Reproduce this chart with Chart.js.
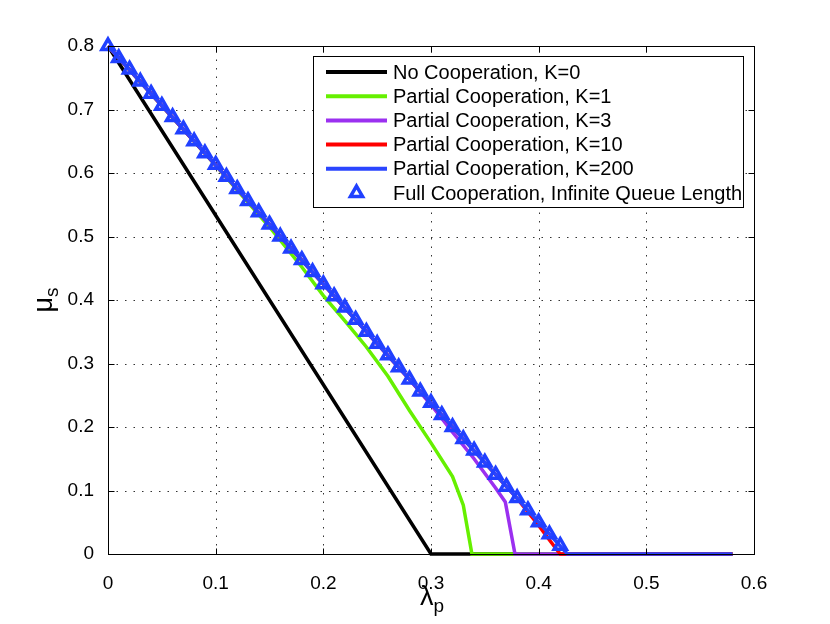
<!DOCTYPE html>
<html>
<head>
<meta charset="utf-8">
<script src="https://cdn.jsdelivr.net/npm/chart.js@4/dist/chart.umd.min.js"></script>
<style>
  html, body { margin: 0; padding: 0; background: #fff; }
  #wrap { width: 830px; height: 624px; }
</style>
</head>
<body>
<div id="wrap"><canvas id="chart" width="830" height="624"></canvas></div>
<script>
// -----------------------
// Data
// -----------------------
const xTicks = [0, 0.1, 0.2, 0.3, 0.4, 0.5, 0.6];
const yTicks = [0, 0.1, 0.2, 0.3, 0.4, 0.5, 0.6, 0.7, 0.8];

const labels = [
  'No Cooperation, K=0',
  'Partial Cooperation, K=1',
  'Partial Cooperation, K=3',
  'Partial Cooperation, K=10',
  'Partial Cooperation, K=200',
  'Full Cooperation, Infinite Queue Length'
];

const lambdaK0 = [0, 0.30, 0.58];
const muK0     = [0.8, 0, 0];

const lambdaK1 = [0, 0.10, 0.15, 0.18, 0.20, 0.22, 0.24, 0.26, 0.28, 0.30, 0.32, 0.33, 0.338, 0.58];
const muK1     = [0.8, 0.612, 0.515, 0.452, 0.407, 0.367, 0.326, 0.28, 0.226, 0.175, 0.122, 0.077, 0, 0];

const lambdaK3 = [0, 0.28, 0.30, 0.32, 0.34, 0.36, 0.369, 0.378, 0.58];
const muK3     = [0.8, 0.275, 0.235, 0.192, 0.15, 0.104, 0.082, 0, 0];

const lambdaK10 = [0, 0.38, 0.40, 0.41, 0.42, 0.58];
const muK10     = [0.8, 0.0875, 0.045, 0.022, 0, 0];

const lambdaK200 = [0, 0.4267, 0.58];
const muK200     = [0.8, 0, 0];

const lambdaFull = [0, 0.01, 0.02, 0.03, 0.04, 0.05, 0.06, 0.07, 0.08, 0.09,
  0.10, 0.11, 0.12, 0.13, 0.14, 0.15, 0.16, 0.17, 0.18, 0.19,
  0.20, 0.21, 0.22, 0.23, 0.24, 0.25, 0.26, 0.27, 0.28, 0.29,
  0.30, 0.31, 0.32, 0.33, 0.34, 0.35, 0.36, 0.37, 0.38, 0.39,
  0.40, 0.41, 0.42];
const muFull = [0.800, 0.781, 0.763, 0.744, 0.725, 0.706, 0.688, 0.669, 0.650, 0.631,
  0.613, 0.594, 0.575, 0.556, 0.538, 0.519, 0.500, 0.481, 0.463, 0.444,
  0.425, 0.406, 0.388, 0.369, 0.350, 0.331, 0.313, 0.294, 0.275, 0.256,
  0.238, 0.219, 0.200, 0.181, 0.163, 0.144, 0.125, 0.106, 0.088, 0.069,
  0.050, 0.031, 0.013];

const colors = ['#000000', '#66f000', '#9b30f0', '#ff0000', '#2a45ff', '#2040ff'];

const FONT = '"Liberation Sans", Arial, Helvetica, sans-serif';
const TRI_R = 7;
const TRI_W = 3.5;

function pts(xs, ys) {
  return xs.map((x, i) => ({ x: x, y: ys[i] }));
}

function lineSet(i, xs, ys, order) {
  return {
    label: labels[i],
    data: pts(xs, ys),
    showLine: true,
    borderColor: colors[i],
    backgroundColor: colors[i],
    borderWidth: 3.5,
    pointRadius: 0,
    pointHoverRadius: 0,
    fill: false,
    tension: 0,
    clip: false,
    order: order
  };
}

const datasets = [
  lineSet(0, lambdaK0, muK0, 5),
  lineSet(1, lambdaK1, muK1, 4),
  lineSet(2, lambdaK3, muK3, 3),
  lineSet(3, lambdaK10, muK10, 2),
  lineSet(4, lambdaK200, muK200, 1),
  {
    label: labels[5],
    data: pts(lambdaFull, muFull),
    showLine: false,
    pointStyle: 'triangle',
    pointRadius: TRI_R,
    pointBorderWidth: TRI_W,
    pointBorderColor: colors[5],
    pointBackgroundColor: 'rgba(255,255,255,0)',
    clip: false,
    order: 0
  }
];

// -----------------------
// Matlab-style frame: dotted grid, inward ticks, box, legend, labels
// -----------------------
const matlabFrame = {
  id: 'matlabFrame',
  beforeDatasetsDraw(chart) {
    const { ctx, chartArea: a, scales: { x, y } } = chart;
    ctx.save();
    ctx.strokeStyle = '#333';
    ctx.lineWidth = 1;
    ctx.setLineDash([1.5, 7]);
    xTicks.forEach(v => {
      const px = Math.round(x.getPixelForValue(v)) + 0.5;
      if (v === xTicks[0] || v === xTicks[xTicks.length - 1]) return;
      ctx.beginPath(); ctx.moveTo(px, a.bottom); ctx.lineTo(px, a.top); ctx.stroke();
    });
    yTicks.forEach(v => {
      const py = Math.round(y.getPixelForValue(v)) + 0.5;
      if (v === yTicks[0] || v === yTicks[yTicks.length - 1]) return;
      ctx.beginPath(); ctx.moveTo(a.left, py); ctx.lineTo(a.right, py); ctx.stroke();
    });
    ctx.restore();
  },
  afterDatasetsDraw(chart) {
    const { ctx, chartArea: a, scales: { x, y } } = chart;
    ctx.save();
    ctx.setLineDash([]);
    ctx.strokeStyle = '#000';
    ctx.lineWidth = 1;
    const L = Math.round(a.left) + 0.5, R = Math.round(a.right) + 0.5;
    const T = Math.round(a.top) + 0.5, B = Math.round(a.bottom) + 0.5;
    ctx.strokeRect(L, T, R - L, B - T);

    const tl = 6;
    ctx.beginPath();
    xTicks.forEach(v => {
      const px = Math.round(x.getPixelForValue(v)) + 0.5;
      ctx.moveTo(px, B); ctx.lineTo(px, B - tl);
      ctx.moveTo(px, T); ctx.lineTo(px, T + tl);
    });
    yTicks.forEach(v => {
      const py = Math.round(y.getPixelForValue(v)) + 0.5;
      ctx.moveTo(L, py); ctx.lineTo(L + tl, py);
      ctx.moveTo(R, py); ctx.lineTo(R - tl, py);
    });
    ctx.stroke();

    // legend
    const lx = 313.5, ly = 56.5, lw = 430, lh = 151;
    ctx.fillStyle = '#fff';
    ctx.fillRect(lx, ly, lw, lh);
    ctx.strokeStyle = '#000';
    ctx.lineWidth = 1;
    ctx.strokeRect(lx, ly, lw, lh);
    ctx.font = '20px ' + FONT;
    ctx.textBaseline = 'middle';
    ctx.textAlign = 'left';
    labels.forEach((lab, i) => {
      const cy = 72 + i * 24.2;
      if (i < 5) {
        ctx.strokeStyle = colors[i];
        ctx.lineWidth = 4;
        ctx.beginPath(); ctx.moveTo(326, cy); ctx.lineTo(387, cy); ctx.stroke();
      } else {
        ctx.strokeStyle = colors[i];
        ctx.lineWidth = TRI_W;
        const cx = 356.5;
        ctx.beginPath();
        for (let k = 0; k < 3; k++) {
          const ang = k * 2 * Math.PI / 3;
          const px = cx + Math.sin(ang) * TRI_R, py = cy - Math.cos(ang) * TRI_R;
          if (k === 0) ctx.moveTo(px, py); else ctx.lineTo(px, py);
        }
        ctx.closePath();
        ctx.stroke();
      }
      ctx.fillStyle = '#000';
      ctx.fillText(lab, 393, cy + 1);
    });

    // axis titles
    ctx.fillStyle = '#000';
    ctx.textBaseline = 'alphabetic';
    ctx.textAlign = 'left';
    ctx.font = '27px ' + FONT;
    const lamW = ctx.measureText('λ').width;
    ctx.font = '19px ' + FONT;
    const pW = ctx.measureText('p').width;
    const xStart = 432 - (lamW + pW) / 2;
    ctx.font = '27px ' + FONT;
    ctx.fillText('λ', xStart, 605);
    ctx.font = '19px ' + FONT;
    ctx.fillText('p', xStart + lamW, 612);

    ctx.save();
    ctx.translate(52, 300);
    ctx.rotate(-Math.PI / 2);
    ctx.font = '27px ' + FONT;
    const muW = ctx.measureText('μ').width;
    ctx.font = '19px ' + FONT;
    const sW = ctx.measureText('s').width;
    const yStart = -(muW + sW) / 2;
    ctx.font = '27px ' + FONT;
    ctx.fillText('μ', yStart, 0);
    ctx.font = '19px ' + FONT;
    ctx.fillText('s', yStart + muW, 6);
    ctx.restore();

    ctx.restore();
  }
};

function fmt(v) {
  return v === 0 ? '0' : String(+v.toFixed(1));
}

new Chart(document.getElementById('chart').getContext('2d'), {
  type: 'scatter',
  data: { datasets: datasets },
  options: {
    responsive: false,
    animation: false,
    layout: { padding: { left: 0, right: 76, top: 46, bottom: 0 } },
    plugins: { legend: { display: false }, tooltip: { enabled: false } },
    scales: {
      x: {
        type: 'linear',
        min: 0, max: 0.6,
        afterBuildTicks: s => { s.ticks = xTicks.map(v => ({ value: v })); },
        afterFit: s => { s.height = 70; },
        grid: { display: false },
        border: { display: false },
        ticks: { color: '#000', padding: 10, font: { family: FONT, size: 19 }, callback: v => fmt(v), maxRotation: 0 }
      },
      y: {
        type: 'linear',
        min: 0, max: 0.8,
        afterBuildTicks: s => { s.ticks = yTicks.map(v => ({ value: v })); },
        afterFit: s => { s.width = 108; },
        grid: { display: false },
        border: { display: false },
        ticks: { color: '#000', padding: 6, font: { family: FONT, size: 19 }, callback: v => fmt(v) }
      }
    }
  },
  plugins: [matlabFrame]
});
</script>
</body>
</html>
